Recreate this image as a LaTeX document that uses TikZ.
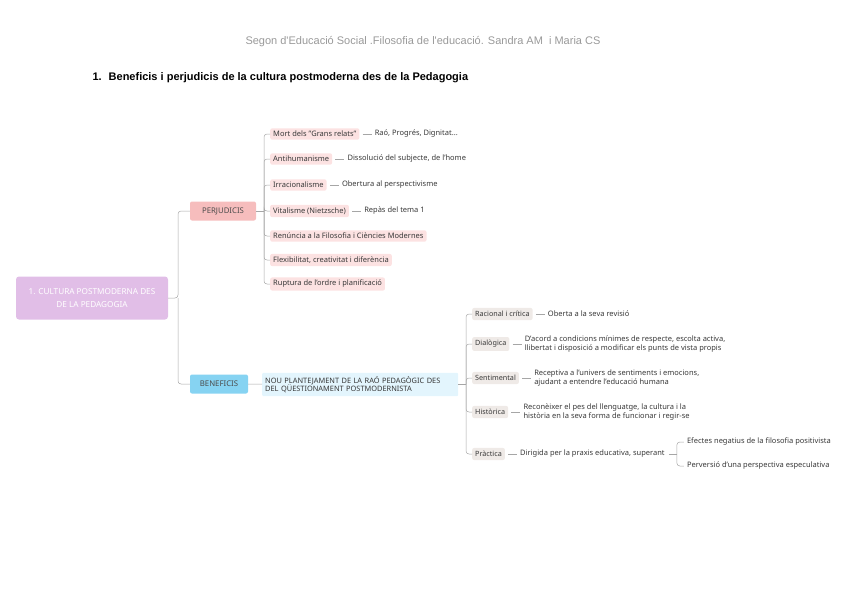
\documentclass[tikz,border=0pt]{standalone}
\usepackage{fontspec}
\setmainfont{Noto Sans}
\newfontfamily\headfont{Liberation Sans}
\usetikzlibrary{positioning}

\definecolor{rootlila}{HTML}{E1BEE7}
\definecolor{perjfort}{HTML}{F6BDBD}
\definecolor{perjclar}{HTML}{FCE2E2}
\definecolor{benfort}{HTML}{86D3F2}
\definecolor{benclar}{HTML}{E3F5FD}
\definecolor{benbeix}{HTML}{EFEAE7}

\begin{document}
\begin{tikzpicture}[x=1pt, y=1pt,
  every node/.style={font=\fontsize{7.5}{9}\selectfont, text=black!78},
  link/.style={draw=black!35, line width=0.5pt, rounded corners=3pt},
  perjbox/.style={fill=perjclar, rounded corners=2pt, inner xsep=3pt, inner ysep=2.8pt, anchor=west},
  benbox/.style={fill=benbeix, rounded corners=2pt, inner xsep=3pt, inner ysep=3.3pt, anchor=west, font=\fontsize{7.2}{9}\selectfont\bfseries},
  leaf/.style={inner sep=1pt, align=left},
  tip/.style={shorten <=3pt, shorten >=2pt}]
  \useasboundingbox (0,0) rectangle (848,-600);

  % capcalera
  \node[font=\headfont\fontsize{11}{13}\selectfont, text=black!40] (capcalera) at (423,-42) {Segon d'Educació Social .Filosofia de l'educació. Sandra AM \ i Maria CS};
  \node[anchor=west, font=\headfont\bfseries\fontsize{11}{13}\selectfont, text=black] (titol) at (89,-78) {1.\hspace{7pt}Beneficis i perjudicis de la cultura postmoderna des de la Pedagogia};

  % arrel i branques principals
  \node[fill=rootlila, rounded corners=3pt, minimum width=152, minimum height=43, align=center, text=white, font=\fontsize{8.2}{13}\selectfont] (arrel) at (92,-298) {1. CULTURA POSTMODERNA DES\\DE LA PEDAGOGIA};
  \node[fill=perjfort, rounded corners=2pt, minimum width=66, minimum height=19, font=\fontsize{7.8}{9}\selectfont, text=black!70] (perj) at (223,-211) {PERJUDICIS};
  \node[fill=benfort, rounded corners=2pt, minimum width=58, minimum height=19, font=\fontsize{7.8}{9}\selectfont, text=black!70] (benef) at (219,-384) {BENEFICIS};
  \coordinate (arrelbus) at (178,-298);
  \draw[link] (arrel) -- (arrelbus) |- (perj);
  \draw[link] (arrelbus) |- (benef);

  % perjudicis
  \node[perjbox] (mort) at (270,-134) {Mort dels "Grans relats"};
  \node[perjbox] (antihum) at (270,-159) {Antihumanisme};
  \node[perjbox] (irrac) at (270,-185) {Irracionalisme};
  \node[perjbox] (vital) at (270,-211) {Vitalisme (Nietzsche)};
  \node[perjbox] (renuncia) at (270,-236) {Renúncia a la Filosofia i Ciències Modernes};
  \node[perjbox] (flexib) at (270,-260) {Flexibilitat, creativitat i diferència};
  \node[perjbox] (ruptura) at (270,-284) {Ruptura de l'ordre i planificació};
  \coordinate (perjbus) at (264,-211);
  \draw[link] (perj) -- (perjbus);
  \foreach \nom in {mort, antihum, irrac, vital, renuncia, flexib, ruptura}
    \draw[link] (perjbus) |- (\nom);

  \node[leaf, right=14pt of mort] (mortfull) {Raó, Progrés, Dignitat...};
  \node[leaf, right=14pt of antihum] (antihumfull) {Dissolució del subjecte, de l'home};
  \node[leaf, right=14pt of irrac] (irracfull) {Obertura al perspectivisme};
  \node[leaf, right=14pt of vital] (vitalfull) {Repàs del tema 1};
  \foreach \nom in {mort, antihum, irrac, vital}
    \draw[link, tip] (\nom) -- (\nom full);

  % beneficis
  \node[fill=benclar, rounded corners=1pt, text width=190, minimum height=23, align=left, font=\fontsize{7.4}{8.4}\selectfont, anchor=west, inner xsep=3pt] (nou) at (262,-384.5) {NOU PLANTEJAMENT DE LA RAÓ PEDAGÒGIC DES\\DEL QÜESTIONAMENT POSTMODERNISTA};
  \draw[link] (benef) -- (nou);

  \node[benbox] (racional) at (472,-314) {Racional i crítica};
  \node[benbox] (dialog) at (472,-344) {Dialògica};
  \node[benbox] (sentim) at (472,-378) {Sentimental};
  \node[benbox] (histor) at (472,-412) {Històrica};
  \node[benbox] (pract) at (472,-454) {Pràctica};
  \coordinate (benbus) at (466,-384.5);
  \draw[link] (nou) -- (benbus);
  \foreach \nom in {racional, dialog, sentim, histor, pract}
    \draw[link] (benbus) |- (\nom);

  \node[leaf, right=14pt of racional] (racionalfull) {Oberta a la seva revisió};
  \node[leaf, right=14pt of dialog] (dialogfull) {D'acord a condicions mínimes de respecte, escolta activa,\\llibertat i disposició a modificar els punts de vista propis};
  \node[leaf, right=14pt of sentim] (sentimfull) {Receptiva a l'univers de sentiments i emocions,\\ajudant a entendre l'educació humana};
  \node[leaf, right=14pt of histor] (historfull) {Reconèixer el pes del llenguatge, la cultura i la\\història en la seva forma de funcionar i regir-se};
  \node[leaf, right=14pt of pract] (practfull) {Dirigida per la praxis educativa, superant};
  \foreach \nom in {racional, dialog, sentim, histor, pract}
    \draw[link, tip] (\nom) -- (\nom full);

  % subbranca de practica
  \coordinate[right=11pt of practfull] (practbus);
  \node[leaf, anchor=west] (efectes) at ([xshift=9pt, yshift=12pt]practbus) {Efectes negatius de la filosofia positivista};
  \node[leaf, anchor=west] (perversio) at ([xshift=9pt, yshift=-12pt]practbus) {Perversió d'una perspectiva especulativa};
  \draw[link, shorten <=3pt] (practfull) -- (practbus);
  \draw[link, shorten >=2pt] (practbus) |- (efectes);
  \draw[link, shorten >=2pt] (practbus) |- (perversio);
\end{tikzpicture}
\end{document}
